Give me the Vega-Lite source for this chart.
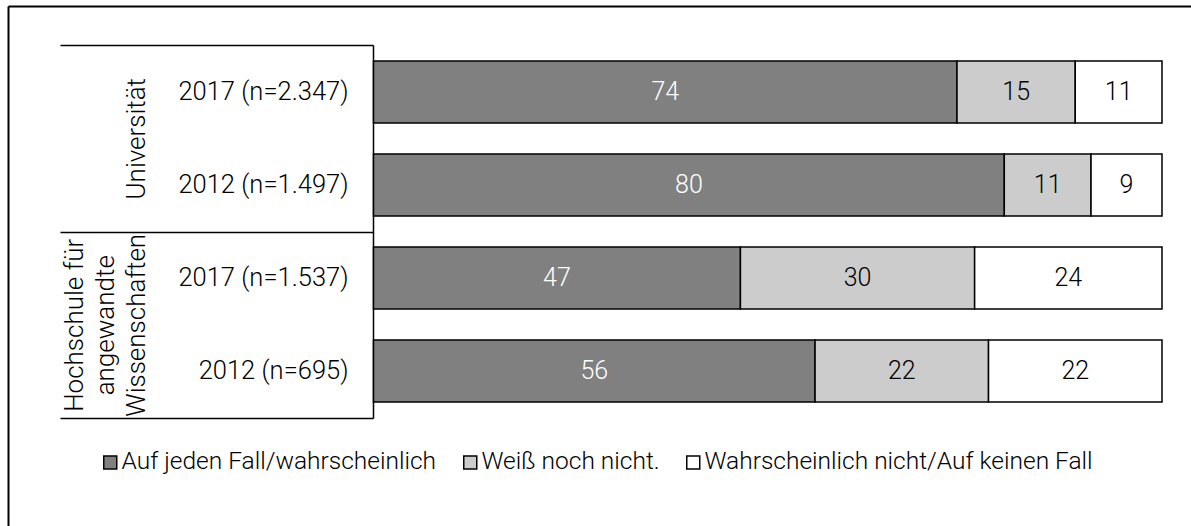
{
  "$schema": "https://vega.github.io/schema/vega-lite/v6.json",
  "usermeta": {"embedOptions": {"actions": false}},
  "width": 1183,
  "height": 520,
  "autosize": "none",
  "padding": {"left": 8, "top": 6, "right": 0, "bottom": 0},
  "background": "white",
  "datasets": {
    "survey": [
      {"group": "Universität", "row": "2017 (n=2.347)", "answer": "Auf jeden Fall/wahrscheinlich", "pct": 74},
      {"group": "Universität", "row": "2017 (n=2.347)", "answer": "Weiß noch nicht.", "pct": 15},
      {"group": "Universität", "row": "2017 (n=2.347)", "answer": "Wahrscheinlich nicht/Auf keinen Fall", "pct": 11},
      {"group": "Universität", "row": "2012 (n=1.497)", "answer": "Auf jeden Fall/wahrscheinlich", "pct": 80},
      {"group": "Universität", "row": "2012 (n=1.497)", "answer": "Weiß noch nicht.", "pct": 11},
      {"group": "Universität", "row": "2012 (n=1.497)", "answer": "Wahrscheinlich nicht/Auf keinen Fall", "pct": 9},
      {"group": "Hochschule für angewandte Wissenschaften", "row": "2017 (n=1.537)", "answer": "Auf jeden Fall/wahrscheinlich", "pct": 47},
      {"group": "Hochschule für angewandte Wissenschaften", "row": "2017 (n=1.537)", "answer": "Weiß noch nicht.", "pct": 30},
      {"group": "Hochschule für angewandte Wissenschaften", "row": "2017 (n=1.537)", "answer": "Wahrscheinlich nicht/Auf keinen Fall", "pct": 24},
      {"group": "Hochschule für angewandte Wissenschaften", "row": "2012 (n=695)", "answer": "Auf jeden Fall/wahrscheinlich", "pct": 56},
      {"group": "Hochschule für angewandte Wissenschaften", "row": "2012 (n=695)", "answer": "Weiß noch nicht.", "pct": 22},
      {"group": "Hochschule für angewandte Wissenschaften", "row": "2012 (n=695)", "answer": "Wahrscheinlich nicht/Auf keinen Fall", "pct": 22}
    ],
    "answers": [
      {"answer": "Auf jeden Fall/wahrscheinlich", "rank": 1},
      {"answer": "Weiß noch nicht.", "rank": 2},
      {"answer": "Wahrscheinlich nicht/Auf keinen Fall", "rank": 3}
    ]
  },
  "layer": [
    {
      "data": {"name": "survey"},
      "transform": [
        {"lookup": "answer", "from": {"data": {"name": "answers"}, "key": "answer", "fields": ["rank"]}},
        {"stack": "pct", "groupby": ["row"], "offset": "normalize", "sort": [{"field": "rank", "order": "ascending"}], "as": ["v0", "v1"]}
      ],
      "layer": [
        {
          "mark": {"type": "bar", "stroke": "black", "strokeWidth": 1.5},
          "encoding": {
            "y": {
              "field": "row", "type": "nominal",
              "sort": ["2017 (n=2.347)", "2012 (n=1.497)", "2017 (n=1.537)", "2012 (n=695)"],
              "scale": {"range": [39, 412], "paddingInner": 0.333, "paddingOuter": 0.172},
              "axis": {
                "orient": "left", "offset": -365, "title": null, "ticks": false, "tickSize": 0,
                "labelPadding": 25, "domainColor": "black", "domainWidth": 1.5,
                "labelFontSize": 25.5, "labelColor": "black", "labelFont": "Roboto", "labelFontWeight": 300,
                "labelAlign": "right", "grid": false
              }
            },
            "x": {"field": "v0", "type": "quantitative", "scale": {"domain": [0, 1], "range": [365.5, 1154]}, "axis": null},
            "x2": {"field": "v1"},
            "color": {
              "field": "answer", "type": "nominal",
              "scale": {
                "domain": ["Auf jeden Fall/wahrscheinlich", "Weiß noch nicht.", "Wahrscheinlich nicht/Auf keinen Fall"],
                "range": ["#808080", "#cccccc", "#ffffff"]
              },
              "legend": {
                "orient": "none", "legendX": 90, "legendY": 444, "direction": "horizontal", "title": null,
                "symbolType": "square", "symbolSize": 169, "symbolStrokeColor": "black", "symbolStrokeWidth": 1.5,
                "labelFontSize": 24.5, "labelFont": "Roboto", "labelFontWeight": 300, "labelColor": "black",
                "columnPadding": 21, "labelOffset": -1, "padding": 0, "labelLimit": 0
              }
            }
          }
        },
        {
          "transform": [
            {"fold": ["v0", "v1"], "as": ["edge", "pos"]},
            {"aggregate": [{"op": "mean", "field": "pos", "as": "mid"}], "groupby": ["row", "answer", "pct"]}
          ],
          "mark": {"type": "text", "fontSize": 25, "font": "Roboto", "fontWeight": 300, "align": "center", "baseline": "middle"},
          "encoding": {
            "y": {"field": "row", "type": "nominal", "sort": ["2017 (n=2.347)", "2012 (n=1.497)", "2017 (n=1.537)", "2012 (n=695)"]},
            "x": {"field": "mid", "type": "quantitative"},
            "text": {"field": "pct", "type": "quantitative"},
            "color": {"condition": {"test": "datum.answer == 'Auf jeden Fall/wahrscheinlich'", "value": "#ffffff"}, "value": "#000000"}
          }
        }
      ]
    },
    {
      "data": {"name": "survey"},
      "mark": {"type": "text", "opacity": 0},
      "encoding": {
        "y": {
          "field": "group", "type": "nominal",
          "sort": ["Universität", "Hochschule für angewandte Wissenschaften"],
          "scale": {"range": [39, 412], "paddingInner": 0, "paddingOuter": 0},
          "axis": {
            "orient": "left", "offset": -365, "title": null, "domain": false,
            "ticks": true, "tickBand": "extent", "tickSize": 313, "tickWidth": 1.5, "tickColor": "black",
            "labelAngle": -90, "labelAlign": "center", "labelBaseline": "bottom", "labelPadding": -89,
            "labelFontSize": 26, "labelLineHeight": -31, "labelFont": "Roboto", "labelFontWeight": 300,
            "labelColor": "black", "labelOverlap": false, "labelBound": false, "labelFlush": false, "grid": false,
            "labelLimit": 400,
            "labelExpr": "datum.label == 'Hochschule für angewandte Wissenschaften' ? ['Wissenschaften', 'angewandte', 'Hochschule für'] : datum.label"
          }
        },
        "text": {"value": ""}
      }
    },
    {
      "data": {"name": "survey"},
      "mark": {"type": "text", "opacity": 0},
      "encoding": {
        "x": {
          "field": "pct", "type": "quantitative",
          "axis": {"orient": "top", "title": null, "labels": false, "ticks": false, "grid": false, "domainColor": "black", "domainWidth": 2}
        },
        "y": {
          "field": "pct", "type": "quantitative",
          "axis": {"orient": "left", "title": null, "labels": false, "ticks": false, "grid": false, "domainColor": "black", "domainWidth": 2}
        },
        "text": {"value": ""}
      }
    }
  ],
  "resolve": {"scale": {"x": "independent", "y": "independent"}, "axis": {"x": "independent", "y": "independent"}},
  "config": {
    "font": "Roboto",
    "view": {"stroke": null}
  }
}
